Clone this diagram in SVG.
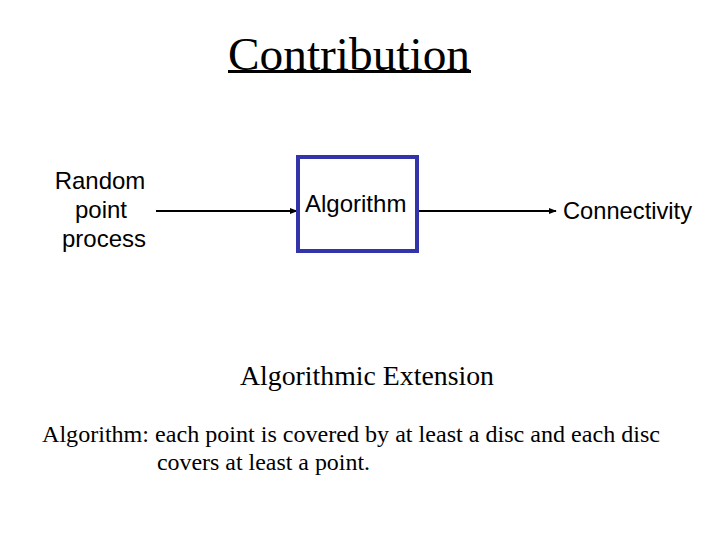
<svg xmlns="http://www.w3.org/2000/svg" width="720" height="540" viewBox="0 0 720 540">
<style>
.serif{font-family:"Liberation Serif","Times New Roman",serif;fill:#000}
.sans{font-family:"Liberation Sans",Arial,sans-serif;fill:#000;font-size:24px}
.edge{stroke:#000;stroke-width:2;fill:none}
</style>
<defs>
<marker id="arr" viewBox="0 0 10 10" refX="9" refY="5" markerWidth="4" markerHeight="4" orient="auto" markerUnits="strokeWidth">
<path d="M0,1 L10,5 L0,9 z" fill="#000"/>
</marker>
</defs>
<rect width="720" height="540" fill="#fff"/>
<g id="title">
<text class="serif" x="349" y="70" font-size="47" text-anchor="middle" textLength="242" lengthAdjust="spacingAndGlyphs">Contribution</text>
<rect x="228" y="70" width="243" height="3" fill="#000"/>
</g>
<g id="connectors">
<line class="edge" x1="156" y1="211" x2="297" y2="211" marker-end="url(#arr)"/>
<line class="edge" x1="418" y1="211" x2="556" y2="211" marker-end="url(#arr)"/>
</g>
<g id="random">
<text class="sans" text-anchor="middle"><tspan x="100" y="189">Random</tspan><tspan x="101" y="218">point</tspan><tspan x="104" y="247">process</tspan></text>
</g>
<g id="algorithm">
<rect x="298" y="157" width="119" height="94" fill="#fff" stroke="#3333aa" stroke-width="4"/>
<text class="sans" x="305" y="212">Algorithm</text>
</g>
<g id="connectivity">
<text class="sans" x="563" y="219" textLength="129" lengthAdjust="spacingAndGlyphs">Connectivity</text>
</g>
<g id="extension">
<text class="serif" x="240" y="385" font-size="27" textLength="254" lengthAdjust="spacingAndGlyphs">Algorithmic Extension</text>
</g>
<g id="definition">
<text class="serif" font-size="24"><tspan x="42" y="442" textLength="618" lengthAdjust="spacingAndGlyphs">Algorithm: each point is covered by at least a disc and each disc</tspan><tspan x="157" y="470" textLength="213" lengthAdjust="spacingAndGlyphs">covers at least a point.</tspan></text>
</g>
</svg>
